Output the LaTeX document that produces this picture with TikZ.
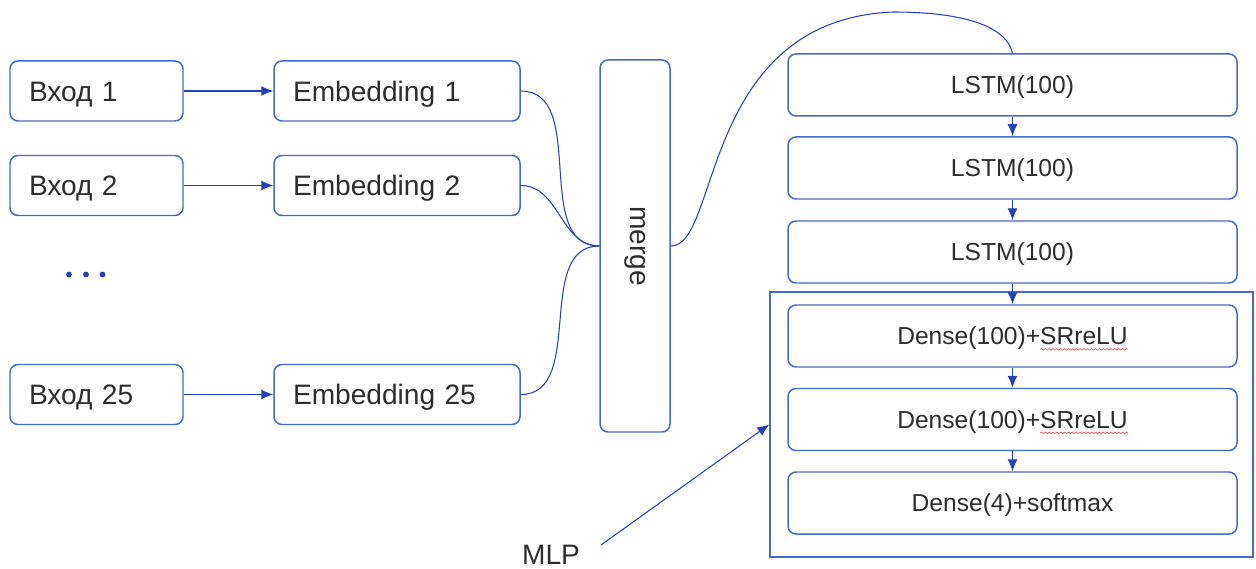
\documentclass[tikz,border=0pt]{standalone}
\usepackage{fontspec}
\setmainfont{Liberation Sans}
\usepackage{graphicx}
\usetikzlibrary{arrows.meta,decorations.pathmorphing}
\definecolor{boxblue}{RGB}{70,105,205}
\definecolor{linkblue}{RGB}{35,65,190}
\definecolor{txtgray}{RGB}{45,45,45}
\newlength{\srwidth}
\newlength{\densewidth}
\tikzset{
  >={Latex[length=2.4mm,width=2mm]},
  blk/.style={draw=boxblue, line width=0.85pt, rounded corners=0.16cm, text=txtgray},
  inbox/.style={blk, font=\fontsize{16}{19}\selectfont, minimum height=1.2cm, text width=2.7cm, align=left, inner xsep=0.38cm, text height=11.5pt, text depth=0pt},
  embbox/.style={inbox, text width=4.16cm},
  layerbox/.style={blk, font=\fontsize{14}{17}\selectfont, minimum width=8.98cm, minimum height=1.24cm, text height=10pt, text depth=0pt},
  link/.style={draw=linkblue, line width=0.6pt},
  spell/.style={draw=red!70, line width=0.35pt, sharp corners, decorate, decoration={snake, amplitude=0.45pt, segment length=2.2pt}}
}

\begin{document}
\settowidth{\srwidth}{\fontsize{14}{17}\selectfont SRreLU}
\settowidth{\densewidth}{\fontsize{14}{17}\selectfont Dense(100)+SRreLU}
\begin{tikzpicture}
\useasboundingbox (0,0) rectangle (25.12,-11.38);
% inputs and embeddings
\node[inbox] (in1) at (1.93,-1.82) {Вход 1};
\node[inbox] (in2) at (1.93,-3.71) {Вход 2};
\node[inbox] (in25) at (1.93,-7.89) {Вход 25};
\node[embbox] (emb1) at (7.94,-1.82) {Embedding 1};
\node[embbox] (emb2) at (7.94,-3.71) {Embedding 2};
\node[embbox] (emb25) at (7.94,-7.89) {Embedding 25};
\filldraw[linkblue] (1.38,-5.49) circle (0.05cm);
\filldraw[linkblue] (1.72,-5.49) circle (0.05cm);
\filldraw[linkblue] (2.05,-5.49) circle (0.05cm);
\draw[link,->] (in1) -- (emb1);
\draw[link,->] (in2) -- (emb2);
\draw[link,->] (in25) -- (emb25);
% merge
\node[blk, font=\fontsize{16}{19}\selectfont, minimum width=1.4cm, minimum height=7.44cm] (merge) at (12.7,-4.92) {\rotatebox{-90}{merge}};
\draw[link] (emb1.east) to[out=0,in=180] (merge.west);
\draw[link] (emb2.east) to[out=0,in=180] (merge.west);
\draw[link] (emb25.east) to[out=0,in=180] (merge.west);
% recurrent part
\node[layerbox] (lstm1) at (20.25,-1.70) {LSTM(100)};
\node[layerbox] (lstm2) at (20.25,-3.36) {LSTM(100)};
\node[layerbox] (lstm3) at (20.25,-5.04) {LSTM(100)};
\draw[link] (merge.east) .. controls (14.4,-4.94) and (14.0,-0.4) .. (17.86,-0.24)
  .. controls (18.9,-0.24) and (20.1,-0.4) .. (lstm1.north);
\draw[link,->] (lstm1) -- (lstm2);
\draw[link,->] (lstm2) -- (lstm3);
% MLP
\node[draw=boxblue, line width=0.85pt, minimum width=9.66cm, minimum height=5.3cm] (mlpbox) at (20.23,-8.49) {};
\node[layerbox] (dense1) at (20.25,-6.72) {Dense(100)+SRreLU};
\node[layerbox] (dense2) at (20.25,-8.39) {Dense(100)+SRreLU};
\node[layerbox] (dense3) at (20.25,-10.06) {Dense(4)+softmax};
\draw[spell] ([xshift=0.5\densewidth-\srwidth, yshift=-2.6pt]dense1.base) -- ([xshift=0.5\densewidth, yshift=-2.6pt]dense1.base);
\draw[spell] ([xshift=0.5\densewidth-\srwidth, yshift=-2.6pt]dense2.base) -- ([xshift=0.5\densewidth, yshift=-2.6pt]dense2.base);
\draw[link,->] (lstm3) -- (dense1);
\draw[link,->] (dense1) -- (dense2);
\draw[link,->] (dense2) -- (dense3);
\node[text=txtgray, font=\fontsize{16}{19}\selectfont] (mlp) at (11.02,-11.1) {MLP};
\coordinate (mlptail) at (12.02,-10.9);
\draw[link,->] (mlptail) -- (mlpbox.west);
\end{tikzpicture}
\end{document}
